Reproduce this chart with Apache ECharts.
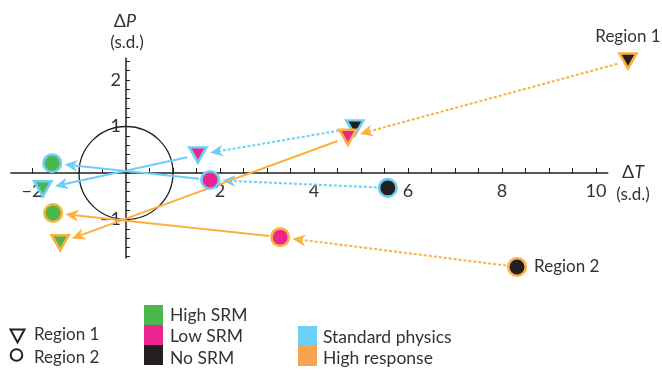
<!DOCTYPE html>
<html><head><meta charset="utf-8">
<script src="https://cdn.jsdelivr.net/npm/echarts@6/dist/echarts.min.js"></script>
<style>html,body{margin:0;padding:0;background:#fff}#c{width:662px;height:370px}</style>
</head><body><div id="c"></div>
<script>
// ---- categories ----
const srmLevels = ['No SRM', 'Low SRM', 'High SRM'];
const srmColors = ['#231f20', '#ec268f', '#4cb74d'];
const physicsNames = ['Standard physics', 'High response'];
const physicsColors = ['#6dcff6', '#fbb040'];
const physicsLegendColors = ['#6dcff6', '#f7a350'];
const regionNames = ['Region 1', 'Region 2'];

// ---- values (ΔT, ΔP in s.d.), order: No SRM, Low SRM, High SRM ----
const stdR1T = [4.87, 1.53, -1.77];
const stdR1P = [0.97, 0.39, -0.34];
const stdR2T = [5.57, 1.79, -1.57];
const stdR2P = [-0.32, -0.15, 0.21];
const hiR1T = [10.68, 4.72, -1.40];
const hiR1P = [2.41, 0.77, -1.50];
const hiR2T = [8.32, 3.28, -1.55];
const hiR2P = [-2.02, -1.38, -0.86];

// ---- ticks ----
const xTicks = [-2, -1.5, -1, -0.5, 0, 0.5, 1, 1.5, 2, 2.5, 3, 3.5, 4, 4.5, 5, 5.5, 6, 6.5, 7, 7.5, 8, 8.5, 9, 9.5, 10];
const xLabels = [-2, 2, 4, 6, 8, 10];
const yTicks = [-1.8, -1.6, -1.4, -1.2, -1, -0.8, -0.6, -0.4, -0.2, 0, 0.2, 0.4, 0.6, 0.8, 1, 1.2, 1.4, 1.6, 1.8, 2, 2.2, 2.4];
const yLabels = [-1, 1, 2];

const FONT = 'Lato, "Open Sans", sans-serif';
const TXT = '#333333';
const INK = '#231f20';

const X_MIN = -2.45, X_MAX = 10.25, Y_MIN = -1.83, Y_MAX = 2.47;
const GRID = { left: 10.85, top: 58.14, width: 596.9, height: 199.95 };

const groups = [
  { phys: 0, region: 0, T: stdR1T, P: stdR1P },
  { phys: 0, region: 1, T: stdR2T, P: stdR2P },
  { phys: 1, region: 0, T: hiR1T, P: hiR1P },
  { phys: 1, region: 1, T: hiR2T, P: hiR2P }
];

function arrowRender(color) {
  return function (params, api) {
    const a = api.coord([api.value(0), api.value(1)]);
    const b = api.coord([api.value(2), api.value(3)]);
    const dashed = api.value(4) === 1;
    const dx = b[0] - a[0], dy = b[1] - a[1];
    const L = Math.hypot(dx, dy);
    const ux = dx / L, uy = dy / L, nx = -uy, ny = ux;
    const s0 = 11, s1 = 12.5;
    const p0 = [a[0] + ux * s0, a[1] + uy * s0];
    const tip = [b[0] - ux * s1, b[1] - uy * s1];
    const headLen = 13, headW = 6, notch = 4;
    const base = [tip[0] - ux * headLen, tip[1] - uy * headLen];
    const left = [base[0] + nx * headW, base[1] + ny * headW];
    const right = [base[0] - nx * headW, base[1] - ny * headW];
    const notchPt = [tip[0] - ux * (headLen - notch), tip[1] - uy * (headLen - notch)];
    return {
      type: 'group',
      children: [
        { type: 'line', shape: { x1: p0[0], y1: p0[1], x2: notchPt[0], y2: notchPt[1] },
          style: { stroke: color, lineWidth: 2, lineDash: dashed ? [3, 2] : null, fill: null } },
        { type: 'polygon', shape: { points: [tip, left, notchPt, right] }, style: { fill: color } }
      ]
    };
  };
}

const series = [];

// unit circle
series.push({
  type: 'custom', z: 1, silent: true,
  data: [[0, 0, 1]],
  encode: { x: 0, y: 1 },
  renderItem: function (params, api) {
    const c = api.coord([api.value(0), api.value(1)]);
    const s = api.size([api.value(2), api.value(2)]);
    return { type: 'ellipse', shape: { cx: c[0], cy: c[1], rx: s[0], ry: s[1] },
      style: { stroke: INK, lineWidth: 1.3, fill: null } };
  }
});

// arrows
groups.forEach(g => {
  const data = [];
  for (let i = 0; i < g.T.length - 1; i++) {
    data.push([g.T[i], g.P[i], g.T[i + 1], g.P[i + 1], i === 0 ? 1 : 0]);
  }
  series.push({
    type: 'custom', z: 3, silent: true, clip: false,
    data: data,
    encode: { x: [0, 2], y: [1, 3] },
    renderItem: arrowRender(physicsColors[g.phys])
  });
});

// markers
groups.forEach(g => {
  const data = g.T.map((t, i) => {
    const item = {
      value: [t, g.P[i]],
      itemStyle: { color: srmColors[i], borderColor: physicsColors[g.phys], borderWidth: 2.6, opacity: 1 }
    };
    if (g.phys === 1 && i === 0) {
      item.label = g.region === 0
        ? { show: true, position: 'top', distance: 7, formatter: regionNames[0], fontFamily: FONT, fontSize: 17, color: TXT }
        : { show: true, position: 'right', distance: 7, formatter: regionNames[1], fontFamily: FONT, fontSize: 17, color: TXT };
    }
    return item;
  });
  series.push({
    type: 'scatter', z: 5, clip: false, silent: true,
    symbol: g.region === 0 ? 'triangle' : 'circle',
    symbolRotate: g.region === 0 ? 180 : 0,
    symbolSize: g.region === 0 ? [17, 15] : 17.5,
    itemStyle: { opacity: 1 },
    data: data
  });
});

// legend graphics
const graphic = [];
const richDelta = { a: { fontFamily: FONT, fontSize: 18, fill: TXT }, b: { fontFamily: FONT, fontSize: 18, fontStyle: 'italic', fill: TXT } };
graphic.push({ type: 'text', x: 125, y: 21, style: { text: '{a|Δ}{b|P}', rich: richDelta, textAlign: 'center', textVerticalAlign: 'middle' } });
graphic.push({ type: 'text', x: 127, y: 43, style: { text: '(s.d.)', font: '17px ' + FONT, fill: TXT, textAlign: 'center', textVerticalAlign: 'middle' } });
graphic.push({ type: 'text', x: 633, y: 172, style: { text: '{a|Δ}{b|T}', rich: richDelta, textAlign: 'center', textVerticalAlign: 'middle' } });
graphic.push({ type: 'text', x: 633, y: 195, style: { text: '(s.d.)', font: '17px ' + FONT, fill: TXT, textAlign: 'center', textVerticalAlign: 'middle' } });

// region legend
graphic.push({ type: 'polygon', shape: { points: [[10.5, 329.5], [24.5, 329.5], [17.5, 342.5]] }, style: { stroke: INK, lineWidth: 2, fill: null } });
graphic.push({ type: 'circle', shape: { cx: 16.5, cy: 355, r: 5.8 }, style: { stroke: INK, lineWidth: 2, fill: null } });
regionNames.forEach((name, k) => {
  graphic.push({ type: 'text', x: 34, y: 335 + 23 * k, style: { text: name, font: '17px ' + FONT, fill: TXT, textVerticalAlign: 'middle' } });
});
// SRM legend (top to bottom: High, Low, No)
[2, 1, 0].forEach((idx, k) => {
  graphic.push({ type: 'rect', shape: { x: 144, y: 305 + 20 * k, width: 19, height: 20 }, style: { fill: srmColors[idx] } });
  graphic.push({ type: 'text', x: 170, y: 315 + 21.5 * k, style: { text: srmLevels[idx], font: '17.5px ' + FONT, fill: TXT, textVerticalAlign: 'middle' } });
});
// physics legend
physicsNames.forEach((name, k) => {
  graphic.push({ type: 'rect', shape: { x: 298, y: 326 + 20 * k, width: 19, height: 20 }, style: { fill: physicsLegendColors[k] } });
  graphic.push({ type: 'text', x: 323, y: 337 + 21.5 * k, style: { text: name, font: '17.5px ' + FONT, fill: TXT, textVerticalAlign: 'middle' } });
});

const minus = v => String(v).replace('-', '\u2212');

// place axes through the origin with offsets (deterministic)
const xAxisOffset = -(GRID.height * (0 - Y_MIN) / (Y_MAX - Y_MIN));
const yAxisOffset = -(GRID.width * (0 - X_MIN) / (X_MAX - X_MIN));

const option = {
  animation: false,
  backgroundColor: '#fff',
  grid: Object.assign({ containLabel: false, outerBoundsMode: 'none' }, GRID),
  xAxis: {
    type: 'value', min: X_MIN, max: X_MAX, position: 'bottom', offset: xAxisOffset,
    splitLine: { show: false },
    axisLine: { show: true, onZero: false, lineStyle: { color: INK, width: 1.5 } },
    axisTick: { show: true, inside: true, length: 5, customValues: xTicks, lineStyle: { color: INK, width: 1 } },
    axisLabel: { show: true, customValues: xLabels, margin: 9, formatter: minus, fontFamily: FONT, fontSize: 18, color: TXT }
  },
  yAxis: {
    type: 'value', min: Y_MIN, max: Y_MAX, position: 'left', offset: yAxisOffset,
    splitLine: { show: false },
    axisLine: { show: true, onZero: false, lineStyle: { color: INK, width: 1.5 } },
    axisTick: { show: true, inside: true, length: 4, customValues: yTicks, lineStyle: { color: INK, width: 1 } },
    axisLabel: { show: true, customValues: yLabels, margin: 5, formatter: minus, fontFamily: FONT, fontSize: 18, color: TXT }
  },
  graphic: graphic,
  series: series
};

const chart = echarts.init(document.getElementById('c'), null, { renderer: 'canvas' });
chart.setOption(option);
</script>
</body></html>
